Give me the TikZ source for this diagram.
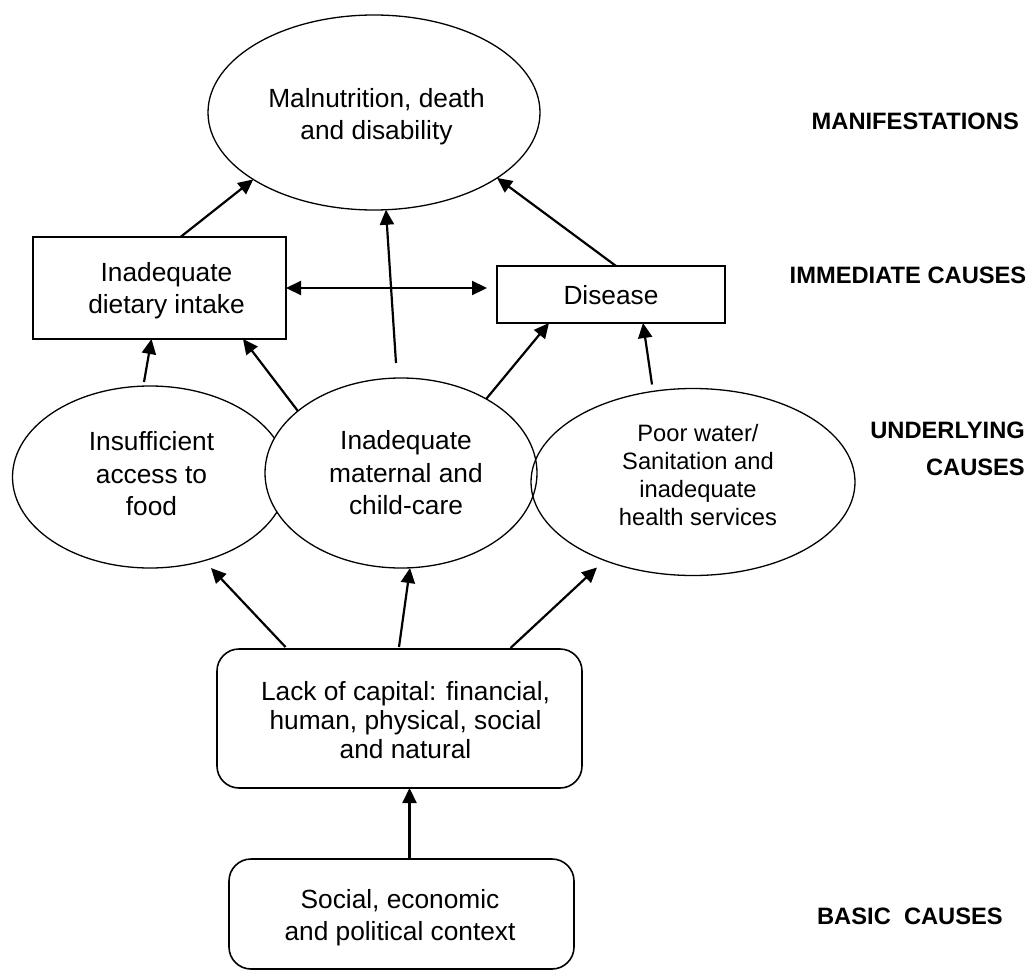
\documentclass[tikz,border=0pt]{standalone}
\usepackage{fontspec}
\setmainfont{Liberation Sans}
\usetikzlibrary{arrows.meta,calc,shapes.geometric}

\newcommand\mainsize{\fontsize{26.3}{32.5}\selectfont}
\newcommand\capsize{\fontsize{26.3}{29}\selectfont}
\newcommand\watersize{\fontsize{23.7}{27.7}\selectfont}
\newcommand\levelsize{\fontsize{23.7}{28}\selectfont\bfseries}

\tikzset{
  oval/.style={ellipse, draw, line width=1.3pt, inner sep=0pt, outer sep=0pt},
  plainbox/.style={rectangle, draw, line width=1.6pt, inner sep=0pt, outer sep=0pt},
  roundbox/.style={plainbox, rounded corners=22pt},
  boxtext/.style={inner sep=0pt, align=center, font=\mainsize},
  level/.style={inner sep=0pt, anchor=east, font=\levelsize},
  tip/.tip={Triangle[length=15pt,width=14pt]},
  arr/.style={line width=2.2pt, -tip},
  twoway/.style={line width=2.2pt, tip-tip},
}

\begin{document}
\begin{tikzpicture}[x=1pt,y=-1pt]
\useasboundingbox (0,0) rectangle (1030,971);

% manifestation
\node[oval, minimum width=332pt, minimum height=195pt] (top) at (374,112.5) {};
\node[boxtext] (top-t) at ($(top)+(2.5,4)$) {Malnutrition, death\\and disability};

% immediate causes
\node[plainbox, minimum width=253pt, minimum height=102pt] (diet) at (159.5,288) {};
\node[boxtext] (diet-t) at ($(diet)+(7,2.5)$) {Inadequate\\dietary intake};
\node[plainbox, minimum width=228pt, minimum height=57pt] (dis) at (611,294.5) {};
\node[boxtext] (dis-t) at ($(dis)+(0,0.5)$) {Disease};

% underlying causes
\node[oval, fill=white, minimum width=275pt, minimum height=182pt] (food) at (150,477) {};
\node[boxtext] (food-t) at ($(food)+(1.5,-3)$) {Insufficient\\access to\\food};
\node[oval, fill=white, minimum width=272pt, minimum height=190pt] (care) at (401,473) {};
\node[boxtext] (care-t) at ($(care)+(5,0)$) {Inadequate\\maternal and\\child-care};
\node[oval, minimum width=324pt, minimum height=187pt] (water) at (693,482) {};
\node[boxtext, font=\watersize] (water-t) at ($(water)+(5,-7)$)
  {Poor water/\\Sanitation and\\inadequate\\health services};

% basic causes
\node[roundbox, minimum width=365pt, minimum height=139pt] (cap) at (399.5,718.5) {};
\node[boxtext, font=\capsize] (cap-t) at ($(cap)+(6,1.5)$)
  {Lack of capital: financial,\\human, physical, social\\and natural};
\node[roundbox, minimum width=345pt, minimum height=110pt] (soc) at (401.5,914) {};
\node[boxtext] (soc-t) at ($(soc)+(-1.5,3.5)$) {Social, economic\\and political context};

% level labels
\node[level] (l1) at (1019,121) {MANIFESTATIONS};
\node[level] (l2) at (1026.5,275) {IMMEDIATE CAUSES};
\node[level] (l3) at (1025,430) {UNDERLYING};
\node[level] (l4) at (1025,467) {CAUSES};
\node[level] (l5) at (1003,916) {BASIC\ \ CAUSES};

% immediate causes -> manifestation
\draw[arr] ($(diet.north)+(21,0)$) -- (top.209);
\draw[arr] ($(dis.north)+(5,0)$) -- (top.332);
\draw[arr] ($(care.north)+(-5,-15)$) -- (top.277);
\draw[twoway] (diet.east) -- ($(diet.east -| dis.west)+(-10,0)$);

% underlying causes -> immediate causes
\draw[arr] ($(food.north)+(-6,-4)$) -- ($(diet.south)+(-8,0)$);
\draw[arr] (care.149) -- ($(diet.south east)+(-43,0)$);
\draw[arr] (care.41) -- ($(dis.south west)+(52,0)$);
\draw[arr] ($(water.north)+(-41,-4)$) -- ($(dis.south west)+(146,0)$);

% basic causes -> underlying causes
\draw[arr] ($(cap.north)+(-114,-2)$) -- ($(food.south)+(61,0)$);
\draw[arr] ($(cap.north)+(-0.5,-2)$) -- ($(care.south)+(9,0)$);
\draw[arr] ($(cap.north)+(111,-1)$) -- ($(water.south)+(-96,-8)$);
\draw[arr] ($(soc.north)+(8,0)$) coordinate (s0) -- (s0 |- cap.south);
\end{tikzpicture}
\end{document}
